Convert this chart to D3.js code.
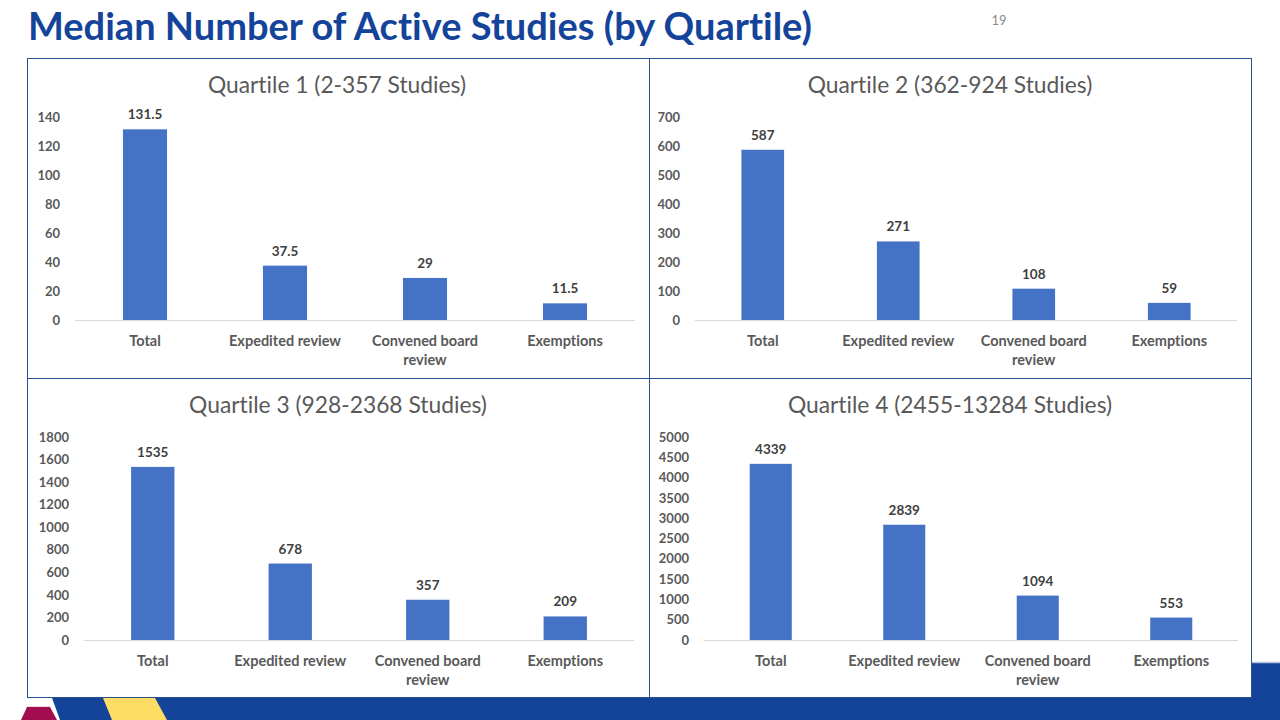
<!DOCTYPE html>
<html>
<head>
<meta charset="utf-8">
<script src="https://cdn.jsdelivr.net/npm/d3@7/dist/d3.min.js"></script>
<style>
  html, body { margin: 0; padding: 0; background: #fff; }
  svg { display: block; }
  text { font-variant-ligatures: none; font-feature-settings: "liga" 0; }
</style>
</head>
<body>
<svg id="chart" width="1280" height="720"></svg>
<script>
// ---------- DATA ----------
const slideTitle = "Median Number of Active Studies (by Quartile)";
const pageNumber = "19";
const categories = ["Total", "Expedited review", "Convened board review", "Exemptions"];
const categoryLines = [["Total"], ["Expedited review"], ["Convened board", "review"], ["Exemptions"]];
const panelTitles = [
  "Quartile 1 (2-357 Studies)",
  "Quartile 2 (362-924 Studies)",
  "Quartile 3 (928-2368 Studies)",
  "Quartile 4 (2455-13284 Studies)"
];
const q1Values = [131.5, 37.5, 29, 11.5];
const q2Values = [587, 271, 108, 59];
const q3Values = [1535, 678, 357, 209];
const q4Values = [4339, 2839, 1094, 553];
const q1Ticks = [0, 20, 40, 60, 80, 100, 120, 140];
const q2Ticks = [0, 100, 200, 300, 400, 500, 600, 700];
const q3Ticks = [0, 200, 400, 600, 800, 1000, 1200, 1400, 1600, 1800];
const q4Ticks = [0, 500, 1000, 1500, 2000, 2500, 3000, 3500, 4000, 4500, 5000];

// ---------- LAYOUT ----------
const FONT = "Lato, 'Open Sans', sans-serif";
const BLUE = "#14449a";
const BAR = "#4472c4";

const panels = [
  { title: panelTitles[0], values: q1Values, ticks: q1Ticks, x0: 75,  x1: 635,  yTop: 117, yBot: 320, titleX: 337, titleY: 93 },
  { title: panelTitles[1], values: q2Values, ticks: q2Ticks, x0: 695, x1: 1237, yTop: 117, yBot: 320, titleX: 950, titleY: 93 },
  { title: panelTitles[2], values: q3Values, ticks: q3Ticks, x0: 84,  x1: 634,  yTop: 437, yBot: 640, titleX: 338, titleY: 413 },
  { title: panelTitles[3], values: q4Values, ticks: q4Ticks, x0: 704, x1: 1238, yTop: 437, yBot: 640, titleX: 950, titleY: 413 }
];

const svg = d3.select("#chart");

// ---------- BACKGROUND DECORATION ----------
svg.append("rect").attr("x", 1252).attr("y", 662).attr("width", 28).attr("height", 58).attr("fill", BLUE);
svg.append("line").attr("x1", 1252).attr("x2", 1280).attr("y1", 662.5).attr("y2", 662.5)
  .attr("stroke", "#b4c2dc").attr("stroke-width", 1.5);
svg.append("polygon").attr("points", "52,698 1280,698 1280,720 60,720").attr("fill", BLUE);
svg.append("polygon").attr("points", "103,698 155,698 167,720 112,720").attr("fill", "#fedd64");
svg.append("polygon").attr("points", "27,707 50,707 57,720 21,720").attr("fill", "#a20d4f");
svg.append("line").attr("x1", 27).attr("x2", 50).attr("y1", 706.5).attr("y2", 706.5)
  .attr("stroke", "#f0d8e0").attr("stroke-width", 1);

// ---------- SLIDE TITLE ----------
svg.append("text")
  .attr("x", 28).attr("y", 40)
  .attr("font-family", FONT).attr("font-weight", 700).attr("font-size", 38)
  .attr("fill", BLUE)
  .attr("textLength", 784).attr("lengthAdjust", "spacingAndGlyphs")
  .text(slideTitle);

svg.append("text")
  .attr("x", 999).attr("y", 25).attr("text-anchor", "middle")
  .attr("font-family", FONT).attr("font-size", 13).attr("fill", "#8c8c8c")
  .text(pageNumber);

// ---------- PANEL FRAME ----------
svg.append("rect").attr("x", 27.5).attr("y", 58.5).attr("width", 1224).attr("height", 639)
  .attr("fill", "#fff").attr("stroke", "#2a4f8f").attr("stroke-width", 1);
svg.append("line").attr("x1", 649.5).attr("x2", 649.5).attr("y1", 58.5).attr("y2", 697.5)
  .attr("stroke", "#2a4f8f").attr("stroke-width", 1);
svg.append("line").attr("x1", 27.5).attr("x2", 1251.5).attr("y1", 378.5).attr("y2", 378.5)
  .attr("stroke", "#2a4f8f").attr("stroke-width", 1);

// ---------- PANELS ----------
panels.forEach(p => {
  const g = svg.append("g");
  const x = d3.scaleBand().domain(categories).range([p.x0, p.x1])
    .paddingInner(0.685).paddingOuter(0.3425);
  const y = d3.scaleLinear().domain([0, d3.max(p.ticks)]).range([p.yBot, p.yTop]);

  // title
  g.append("text")
    .attr("x", p.titleX).attr("y", p.titleY).attr("text-anchor", "middle")
    .attr("font-family", FONT).attr("font-size", 22.8).attr("fill", "#595959")
    .text(p.title);

  // y axis (labels only)
  const yAxis = g.append("g").attr("transform", `translate(${p.x0},0)`)
    .call(d3.axisLeft(y).tickValues(p.ticks).tickSize(0).tickPadding(15).tickFormat(d3.format("d")));
  yAxis.select(".domain").remove();
  yAxis.selectAll("text")
    .attr("font-family", FONT).attr("font-weight", 700).attr("font-size", 13)
    .attr("fill", "#595959");

  // baseline
  g.append("line").attr("x1", p.x0).attr("x2", p.x1)
    .attr("y1", y(0) + 0.5).attr("y2", y(0) + 0.5)
    .attr("stroke", "#d9d9d9").attr("stroke-width", 1);

  // bars
  g.selectAll("rect.bar").data(p.values).join("rect")
    .attr("class", "bar")
    .attr("x", (d, i) => x(categories[i]))
    .attr("width", x.bandwidth())
    .attr("y", d => y(d))
    .attr("height", d => y(0) - y(d))
    .attr("fill", BAR);

  // value labels
  g.selectAll("text.val").data(p.values).join("text")
    .attr("class", "val")
    .attr("x", (d, i) => x(categories[i]) + x.bandwidth() / 2)
    .attr("y", d => y(d) - 10)
    .attr("text-anchor", "middle")
    .attr("font-family", FONT).attr("font-weight", 700).attr("font-size", 13.5)
    .attr("fill", "#404040")
    .text(d => d);

  // category labels
  categoryLines.forEach((lines, i) => {
    const t = g.append("text")
      .attr("x", x(categories[i]) + x.bandwidth() / 2)
      .attr("y", y(0) + 26)
      .attr("text-anchor", "middle")
      .attr("font-family", FONT).attr("font-weight", 700).attr("font-size", 14.5)
      .attr("fill", "#595959");
    lines.forEach((ln, j) => {
      t.append("tspan").attr("x", x(categories[i]) + x.bandwidth() / 2)
        .attr("dy", j === 0 ? 0 : 19).text(ln);
    });
  });
});
</script>
</body>
</html>
